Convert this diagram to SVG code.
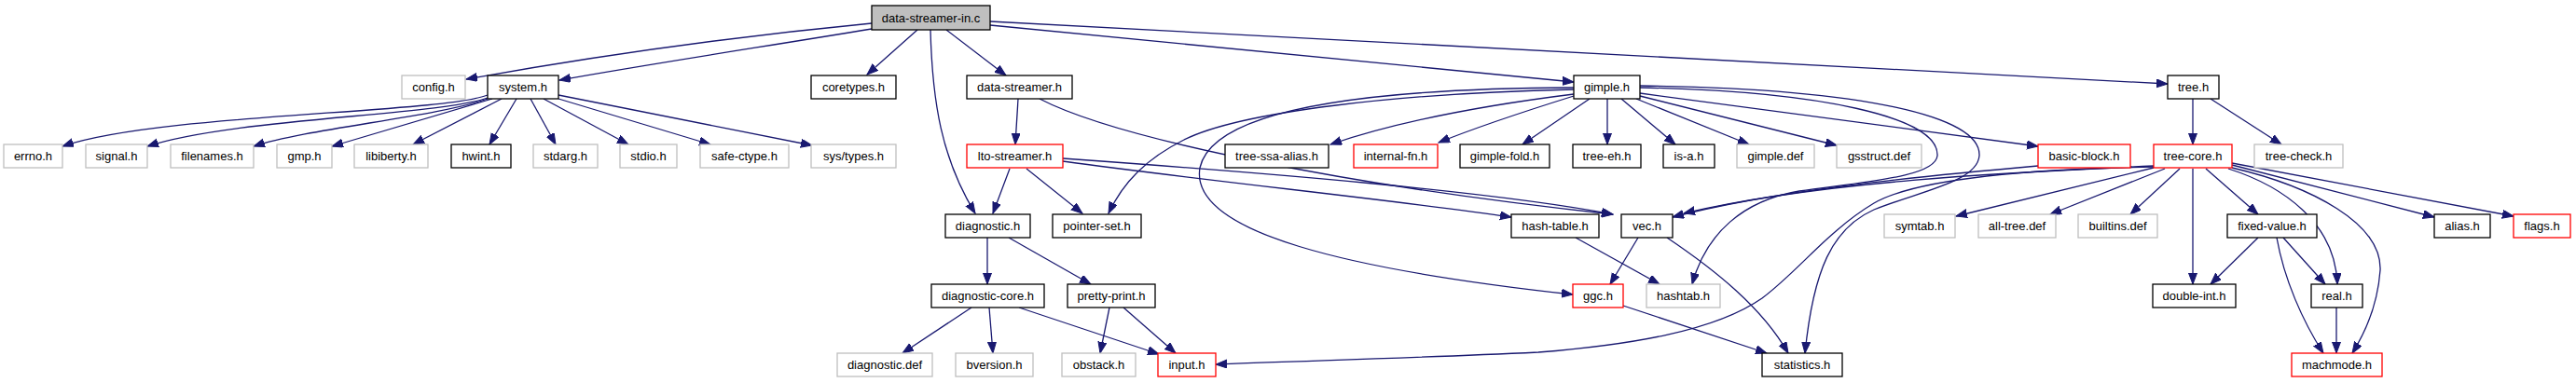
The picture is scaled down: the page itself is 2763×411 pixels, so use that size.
<svg xmlns="http://www.w3.org/2000/svg" width="2763" height="411" viewBox="0 0 2763 411">
<style>
.n rect{fill:#fff;stroke:#000;stroke-width:1.3}
.n.g rect{stroke:#bfbfbf}
.n.r rect{stroke:#ff0000}
.n.top rect{fill:#bfbfbf}
.n text{font-family:"Liberation Sans",Arial,sans-serif;font-size:13px;fill:#000;text-anchor:middle}
#edges path{fill:none;stroke:#191970;stroke-width:1.3;marker-end:url(#arr)}
</style>
<defs>
<marker id="arr" markerUnits="userSpaceOnUse" markerWidth="13" markerHeight="10" refX="12" refY="4.5" orient="auto">
<path d="M0,0 L12,4.5 L0,9 z" fill="#191970" stroke="#191970" stroke-width="1"/>
</marker>
</defs>
<rect width="2763" height="411" fill="#fff"/>
<g id="edges">
<path d="M935,25 C800,38 650,58 500,85"/>
<path d="M935,31 C820,50 700,68 600,86"/>
<path d="M984,32 L930,80"/>
<path d="M1015,32 L1079,81"/>
<path d="M998,32 C1000,110 1010,170 1046,229"/>
<path d="M1062,27 L1688,88"/>
<path d="M1062,23 L2325,90"/>
<path d="M523,102 C470,122 170,122 67,157"/>
<path d="M523,105 C470,124 250,127 158,157"/>
<path d="M523,106 C470,125 330,138 272,157"/>
<path d="M528,106 L356,157"/>
<path d="M538,106 L443,155"/>
<path d="M554,106 L525,155"/>
<path d="M569,106 L596,155"/>
<path d="M583,106 L674,155"/>
<path d="M599,106 L762,155"/>
<path d="M599,102 L871,156"/>
<path d="M1092,106 L1089,155"/>
<path d="M1115,106 C1200,150 1450,200 1730,230"/>
<path d="M1083,181 L1065,229"/>
<path d="M1101,181 L1161,229"/>
<path d="M1140,173 C1300,195 1500,215 1621,233"/>
<path d="M1140,170 C1350,185 1600,205 1730,230"/>
<path d="M1688,96 C1500,100 1330,120 1270,150 C1230,170 1205,195 1189,229"/>
<path d="M1688,94 C1450,95 1300,120 1287,180 C1275,250 1450,290 1687,316"/>
<path d="M1688,101 C1600,112 1500,130 1427,155"/>
<path d="M1688,103 C1640,118 1580,138 1543,153"/>
<path d="M1705,106 L1633,155"/>
<path d="M1724,106 L1724,155"/>
<path d="M1739,106 L1797,155"/>
<path d="M1755,106 L1876,155"/>
<path d="M1759,103 L1970,156"/>
<path d="M1759,100 L2186,157"/>
<path d="M1759,94 C1950,98 2080,125 2078,167 C2076,190 2000,195 1930,205 C1870,215 1830,250 1815,305"/>
<path d="M1759,92 C2000,95 2125,125 2123,167 C2121,195 2060,205 2010,225 C1965,245 1945,290 1936,379"/>
<path d="M1757,255 L1727,305"/>
<path d="M1788,255 C1840,290 1890,330 1918,379"/>
<path d="M1741,328 L1895,379"/>
<path d="M1690,255 L1780,305"/>
<path d="M2352,106 L2352,155"/>
<path d="M2371,106 L2447,155"/>
<path d="M2310,178 C2150,185 1950,195 1806,229"/>
<path d="M2186,178 C2050,190 1900,205 1794,233"/>
<path d="M2310,180 L2098,232"/>
<path d="M2322,181 L2199,230"/>
<path d="M2338,181 L2285,230"/>
<path d="M2352,181 L2352,305"/>
<path d="M2366,181 L2422,230"/>
<path d="M2390,181 C2450,200 2505,240 2507,305"/>
<path d="M2394,180 C2480,200 2555,240 2553,290 C2550,330 2535,360 2523,379"/>
<path d="M2394,177 L2611,233"/>
<path d="M2394,175 L2696,232"/>
<path d="M2310,179 C2150,182 2050,195 2010,218 C1960,248 1930,290 1890,320 C1840,355 1750,370 1650,378 C1500,385 1400,387 1304,391"/>
<path d="M2422,255 L2371,305"/>
<path d="M2449,255 L2494,305"/>
<path d="M2442,255 C2450,300 2470,345 2492,379"/>
<path d="M2506,330 L2506,379"/>
<path d="M1059,255 L1059,305"/>
<path d="M1082,255 L1170,305"/>
<path d="M1042,330 L968,379"/>
<path d="M1061,330 L1065,379"/>
<path d="M1093,330 L1243,380"/>
<path d="M1190,330 L1180,379"/>
<path d="M1205,330 L1261,379"/>
</g>
<g id="n1" class="n top"><rect x="935" y="6" width="127" height="26"/><text x="998.5" y="23.5">data-streamer-in.c</text></g>
<g id="n2" class="n g"><rect x="431" y="81" width="68" height="25"/><text x="465" y="98">config.h</text></g>
<g id="n3" class="n"><rect x="523" y="81" width="76" height="25"/><text x="561" y="98">system.h</text></g>
<g id="n4" class="n"><rect x="870" y="81" width="91" height="25"/><text x="915.5" y="98">coretypes.h</text></g>
<g id="n5" class="n"><rect x="1037" y="81" width="113" height="25"/><text x="1093.5" y="98">data-streamer.h</text></g>
<g id="n6" class="n"><rect x="1688" y="81" width="71" height="25"/><text x="1723.5" y="98">gimple.h</text></g>
<g id="n7" class="n"><rect x="2325" y="81" width="55" height="25"/><text x="2352.5" y="98">tree.h</text></g>
<g id="n8" class="n g"><rect x="4" y="155" width="63" height="25"/><text x="35.5" y="172">errno.h</text></g>
<g id="n9" class="n g"><rect x="92" y="155" width="66" height="25"/><text x="125" y="172">signal.h</text></g>
<g id="n10" class="n g"><rect x="183" y="155" width="89" height="25"/><text x="227.5" y="172">filenames.h</text></g>
<g id="n11" class="n g"><rect x="297" y="155" width="59" height="25"/><text x="326.5" y="172">gmp.h</text></g>
<g id="n12" class="n g"><rect x="380" y="155" width="79" height="25"/><text x="419.5" y="172">libiberty.h</text></g>
<g id="n13" class="n"><rect x="484" y="155" width="64" height="25"/><text x="516" y="172">hwint.h</text></g>
<g id="n14" class="n g"><rect x="572" y="155" width="69" height="25"/><text x="606.5" y="172">stdarg.h</text></g>
<g id="n15" class="n g"><rect x="665" y="155" width="61" height="25"/><text x="695.5" y="172">stdio.h</text></g>
<g id="n16" class="n g"><rect x="751" y="155" width="95" height="25"/><text x="798.5" y="172">safe-ctype.h</text></g>
<g id="n17" class="n g"><rect x="870" y="155" width="91" height="25"/><text x="915.5" y="172">sys/types.h</text></g>
<g id="n18" class="n r"><rect x="1037" y="155" width="103" height="25"/><text x="1088.5" y="172">lto-streamer.h</text></g>
<g id="n19" class="n"><rect x="1314" y="155" width="111" height="25"/><text x="1369.5" y="172">tree-ssa-alias.h</text></g>
<g id="n20" class="n r"><rect x="1452" y="155" width="90" height="25"/><text x="1497" y="172">internal-fn.h</text></g>
<g id="n21" class="n"><rect x="1566" y="155" width="96" height="25"/><text x="1614" y="172">gimple-fold.h</text></g>
<g id="n22" class="n"><rect x="1687" y="155" width="73" height="25"/><text x="1723.5" y="172">tree-eh.h</text></g>
<g id="n23" class="n"><rect x="1784" y="155" width="55" height="25"/><text x="1811.5" y="172">is-a.h</text></g>
<g id="n24" class="n g"><rect x="1863" y="155" width="83" height="25"/><text x="1904.5" y="172">gimple.def</text></g>
<g id="n25" class="n g"><rect x="1970" y="155" width="91" height="25"/><text x="2015.5" y="172">gsstruct.def</text></g>
<g id="n26" class="n r"><rect x="2186" y="155" width="99" height="25"/><text x="2235.5" y="172">basic-block.h</text></g>
<g id="n27" class="n r"><rect x="2310" y="155" width="84" height="25"/><text x="2352" y="172">tree-core.h</text></g>
<g id="n28" class="n g"><rect x="2418" y="155" width="95" height="25"/><text x="2465.5" y="172">tree-check.h</text></g>
<g id="n29" class="n"><rect x="1014" y="230" width="91" height="25"/><text x="1059.5" y="247">diagnostic.h</text></g>
<g id="n30" class="n"><rect x="1129" y="230" width="95" height="25"/><text x="1176.5" y="247">pointer-set.h</text></g>
<g id="n31" class="n"><rect x="1621" y="230" width="94" height="25"/><text x="1668" y="247">hash-table.h</text></g>
<g id="n32" class="n"><rect x="1739" y="230" width="55" height="25"/><text x="1766.5" y="247">vec.h</text></g>
<g id="n33" class="n g"><rect x="2021" y="230" width="76" height="25"/><text x="2059" y="247">symtab.h</text></g>
<g id="n34" class="n g"><rect x="2122" y="230" width="83" height="25"/><text x="2163.5" y="247">all-tree.def</text></g>
<g id="n35" class="n g"><rect x="2229" y="230" width="85" height="25"/><text x="2271.5" y="247">builtins.def</text></g>
<g id="n36" class="n"><rect x="2389" y="230" width="96" height="25"/><text x="2437" y="247">fixed-value.h</text></g>
<g id="n37" class="n"><rect x="2611" y="230" width="60" height="25"/><text x="2641" y="247">alias.h</text></g>
<g id="n38" class="n r"><rect x="2696" y="230" width="61" height="25"/><text x="2726.5" y="247">flags.h</text></g>
<g id="n39" class="n"><rect x="999" y="305" width="121" height="25"/><text x="1059.5" y="322">diagnostic-core.h</text></g>
<g id="n40" class="n"><rect x="1145" y="305" width="94" height="25"/><text x="1192" y="322">pretty-print.h</text></g>
<g id="n41" class="n r"><rect x="1687" y="305" width="54" height="25"/><text x="1714" y="322">ggc.h</text></g>
<g id="n42" class="n g"><rect x="1766" y="305" width="79" height="25"/><text x="1805.5" y="322">hashtab.h</text></g>
<g id="n43" class="n"><rect x="2309" y="305" width="89" height="25"/><text x="2353.5" y="322">double-int.h</text></g>
<g id="n44" class="n"><rect x="2479" y="305" width="55" height="25"/><text x="2506.5" y="322">real.h</text></g>
<g id="n45" class="n g"><rect x="898" y="379" width="102" height="25"/><text x="949" y="396">diagnostic.def</text></g>
<g id="n46" class="n g"><rect x="1025" y="379" width="83" height="25"/><text x="1066.5" y="396">bversion.h</text></g>
<g id="n47" class="n g"><rect x="1139" y="379" width="79" height="25"/><text x="1178.5" y="396">obstack.h</text></g>
<g id="n48" class="n r"><rect x="1242" y="379" width="62" height="25"/><text x="1273" y="396">input.h</text></g>
<g id="n49" class="n"><rect x="1890" y="379" width="86" height="25"/><text x="1933" y="396">statistics.h</text></g>
<g id="n50" class="n r"><rect x="2458" y="379" width="97" height="25"/><text x="2506.5" y="396">machmode.h</text></g>
</svg>
